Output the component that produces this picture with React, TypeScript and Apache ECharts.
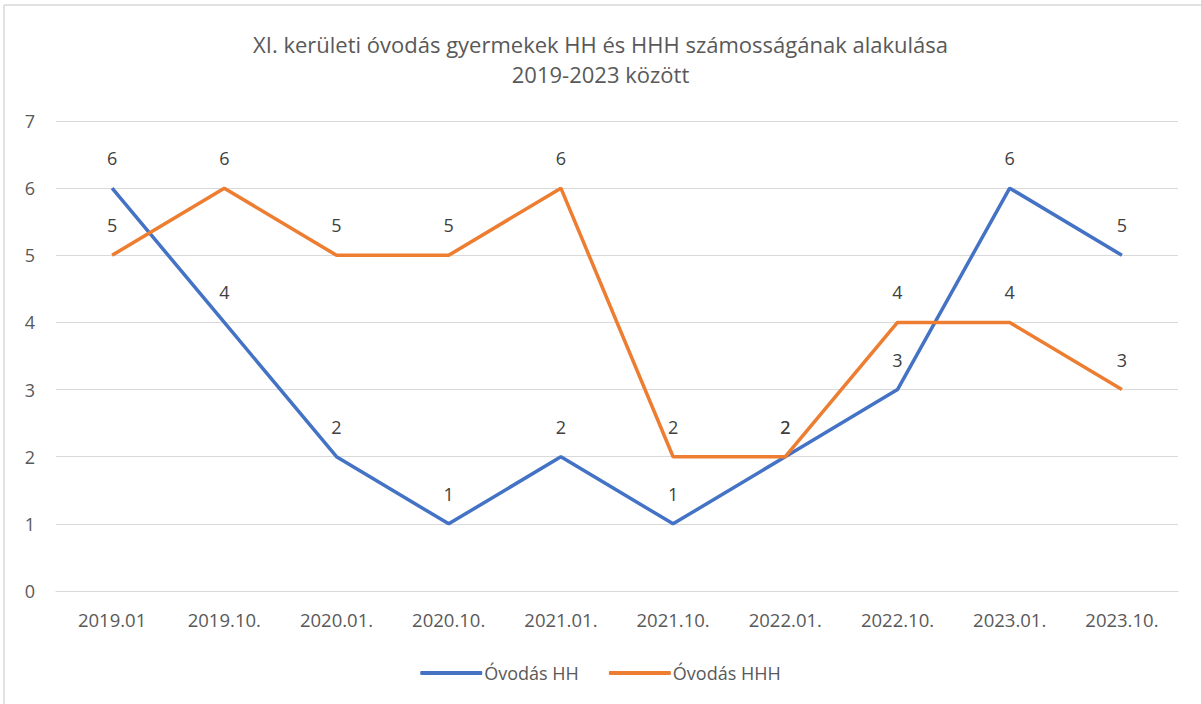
import React, { useEffect, useRef } from "react";
import * as echarts from "echarts";

const categories = ["2019.01", "2019.10.", "2020.01.", "2020.10.", "2021.01.", "2021.10.", "2022.01.", "2022.10.", "2023.01.", "2023.10."];
const hhValues = [6, 4, 2, 1, 2, 1, 2, 3, 6, 5];
const hhhValues = [5, 6, 5, 5, 6, 2, 2, 4, 4, 3];
const titleLines = ["XI. kerületi óvodás gyermekek HH és HHH számosságának alakulása", "2019-2023 között"];
const seriesNames = ["Óvodás HH", "Óvodás HHH"];

const FONT = "'Open Sans', 'Noto Sans', sans-serif";
const TXT = "#595959";

export default function App() {
  const ref = useRef<HTMLDivElement>(null);
  useEffect(() => {
    const chart = echarts.init(ref.current!, null, { renderer: "svg" });
    const mkSeries = (name: string, data: number[], color: string) => ({
      name,
      type: "line",
      data,
      symbol: "circle",
      symbolSize: 0,
      showSymbol: true,
      lineStyle: { color, width: 3.5 },
      itemStyle: { color },
      label: {
        show: true,
        position: "top",
        distance: 21,
        color: "#404040",
        fontSize: 18,
        fontFamily: FONT,
      },
      labelLayout: { hideOverlap: false },
    });
    chart.setOption({
      animation: false,
      backgroundColor: "#ffffff",
      textStyle: { fontFamily: FONT },
      title: {
        text: titleLines.join("\n"),
        left: "center",
        top: 24,
        textStyle: { color: TXT, fontSize: 22, fontWeight: "normal", fontFamily: FONT, lineHeight: 30 },
      },
      legend: {
        top: 659,
        left: "center",
        itemWidth: 62,
        itemHeight: 4,
        itemGap: 30,
        icon: "roundRect",
        textStyle: { color: TXT, fontSize: 18, fontFamily: FONT, padding: [0, 0, 0, -3] },
        data: seriesNames,
      },
      grid: { left: 56, right: 23, top: 121, bottom: 113, containLabel: false },
      xAxis: {
        type: "category",
        data: categories,
        boundaryGap: true,
        axisLine: { show: true, lineStyle: { color: "#d9d9d9" } },
        axisTick: { show: false },
        axisLabel: { color: TXT, fontSize: 18.5, fontFamily: FONT, margin: 19 },
      },
      yAxis: {
        type: "value",
        min: 0,
        max: 7,
        interval: 1,
        axisLine: { show: false },
        axisTick: { show: false },
        axisLabel: { color: TXT, fontSize: 18, fontFamily: FONT, margin: 21 },
        splitLine: { lineStyle: { color: "#d9d9d9", width: 1 } },
      },
      graphic: [
        { type: "line", shape: { x1: 4, y1: 5, x2: 1201, y2: 5 }, style: { stroke: "#d9d9d9", lineWidth: 1.5 } },
        { type: "line", shape: { x1: 4, y1: 5, x2: 4, y2: 704 }, style: { stroke: "#d9d9d9", lineWidth: 1.5 } },
      ],
      series: [
        mkSeries(seriesNames[0], hhValues, "#4472C4"),
        mkSeries(seriesNames[1], hhhValues, "#ED7D31"),
      ],
    });
    return () => chart.dispose();
  }, []);
  return <div ref={ref} style={{ position: "fixed", left: 0, top: 0, width: 1201, height: 704 }} />;
}
